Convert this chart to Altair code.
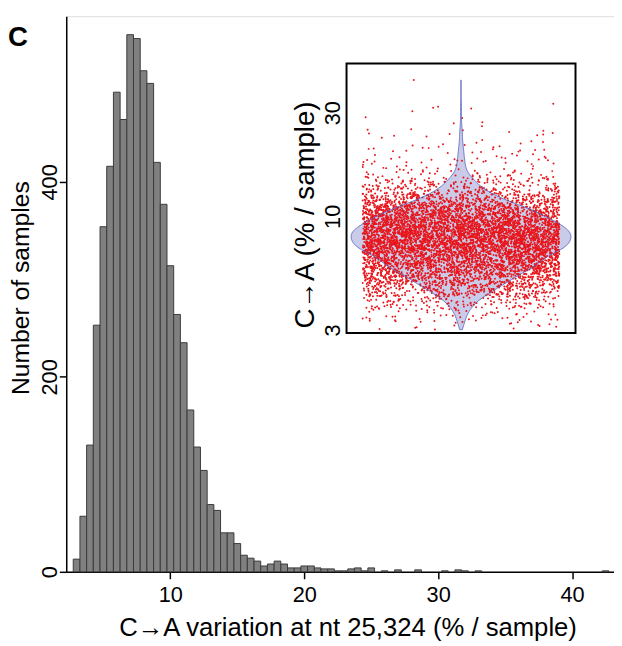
import math
import altair as alt
import pandas as pd

# ---------------- data ----------------
bin_centers = [3.0, 3.5, 4.0, 4.5, 5.0, 5.5, 6.0, 6.5, 7.0, 7.5, 8.0, 8.5, 9.0, 9.5,
               10.0, 10.5, 11.0, 11.5, 12.0, 12.5, 13.0, 13.5, 14.0, 14.5, 15.0, 15.5,
               16.0, 16.5, 17.0, 17.5, 18.0, 18.5, 19.0, 19.5, 20.0, 20.5, 21.0, 21.5,
               22.0, 22.5, 23.0, 23.5, 24.0, 24.5, 25.0, 26.0, 27.0, 28.5, 30.5, 31.5,
               32.0, 33.0, 42.5]
bin_counts = [13, 57, 130, 253, 354, 416, 492, 464, 551, 547, 514, 501, 420, 377,
              314, 264, 235, 166, 128, 104, 69, 63, 40, 40, 29, 17,
              14, 11, 6, 8, 11, 8, 4, 4, 6, 6, 4, 3,
              3, 1, 1, 3, 4, 1, 4, 1, 2, 2, 1, 2,
              1, 1, 1]
bin_width = 0.5
lowest_sample = 3.0

x_ticks = [10, 20, 30, 40]
y_ticks = [0, 200, 400]
inset_ticks = [3, 10, 30]

x_title = "C\u2192A variation at nt 25,324 (% / sample)"
y_title = "Number of samples"
inset_title = "C\u2192A (% / sample)"
panel_letter = "C"

# ---------------- tables ----------------
hist_df = pd.DataFrame({
    "lo": [c - bin_width / 2 for c in bin_centers],
    "hi": [c + bin_width / 2 for c in bin_centers],
    "n": bin_counts,
})

vals = []
for c, n in zip(bin_centers, bin_counts):
    lo = max(c - bin_width / 2, lowest_sample)
    hi = c + bin_width / 2
    for i in range(n):
        vals.append(lo + (i + 0.5) * (hi - lo) / n)
samples = pd.DataFrame({"v": vals})

FONT = "Liberation Sans"

# ---------------- main histogram ----------------
x_main = alt.X(
    "lo:Q",
    scale=alt.Scale(domain=[2.226, 43.13], nice=False, zero=False),
    axis=alt.Axis(
        values=x_ticks, title=x_title, grid=False,
        domainColor="black", domainWidth=1.5, tickColor="black", tickWidth=1.5, tickSize=7,
        labelFont=FONT, labelFontSize=22, labelColor="black", labelPadding=6,
        titleFont=FONT, titleFontSize=26, titleFontWeight="normal", titleColor="black",
        titleX=285, titleY=44, titleBaseline="top", titleAlign="center",
    ),
)
y_main = alt.Y(
    "n:Q",
    scale=alt.Scale(domain=[0, 570], nice=False),
    axis=alt.Axis(
        values=y_ticks, title=y_title, grid=False,
        domainColor="black", domainWidth=1.5, tickColor="black", tickWidth=1.5, tickSize=7,
        labelFont=FONT, labelFontSize=22, labelColor="black", labelPadding=-2,
        labelAngle=270, labelAlign="center", labelBaseline="bottom",
        titleFont=FONT, titleFontSize=25, titleFontWeight="normal", titleColor="black",
        titleAngle=270, titleX=-46, titleY=275, titleAlign="center", titleBaseline="middle",
    ),
)
hist = alt.Chart(hist_df).mark_rect(
    color="#808080", stroke="#3a3a3a", strokeWidth=1
).encode(x=x_main, x2="hi:Q", y=y_main, y2=alt.datum(0))

# ---------------- inset violin + jitter ----------------
lv_min, lv_max = 0.463, 1.704
xin = alt.Scale(domain=[-1, 1], range=[284, 516], nice=False, zero=False)
yin = alt.Scale(domain=[lv_min, lv_max], range=[321, 48], nice=False, zero=False)
yaxis_in = alt.Axis(
    values=[math.log10(t) for t in inset_ticks],
    labelExpr="format(pow(10, datum.value), '.0f')",
    orient="left", offset=-284, domain=False, ticks=False, grid=False,
    labelFont=FONT, labelFontSize=22, labelColor="black", labelPadding=2,
    labelAngle=270, labelAlign="center", labelBaseline="bottom",
    title=inset_title, titleFont=FONT, titleFontSize=28, titleFontWeight="normal",
    titleColor="black", titleAngle=270, titleX=-41, titleY=201,
    titleAlign="center", titleBaseline="middle",
)

base = alt.Chart(samples).transform_calculate(lv="log(datum.v) / LN10")

dens = base.transform_density(
    "lv", as_=["lv", "density"], extent=[math.log10(min(vals)), math.log10(max(vals))], steps=300
).transform_joinaggregate(maxd="max(density)").transform_calculate(
    w="datum.density / datum.maxd * 0.96", nw="-datum.density / datum.maxd * 0.96"
)

violin_fill = dens.mark_area(orient="horizontal", color="#c9cbe8", opacity=1).encode(
    y=alt.Y("lv:Q", scale=yin, axis=yaxis_in),
    x=alt.X("nw:Q", scale=xin, axis=None),
    x2="w:Q",
)
violin_line = dens.mark_area(
    orient="horizontal", fillOpacity=0, stroke="#5565c0", strokeWidth=1, strokeOpacity=0.85
).encode(
    y=alt.Y("lv:Q", scale=yin, axis=yaxis_in),
    x=alt.X("nw:Q", scale=xin, axis=None),
    x2="w:Q",
)
points = base.transform_calculate(jx="(random() - 0.5) * 1.72").mark_circle(
    size=4, color="#e8161c", opacity=1
).encode(
    y=alt.Y("lv:Q", scale=yin, axis=yaxis_in),
    x=alt.X("jx:Q", scale=xin, axis=None),
)
box_df = pd.DataFrame({"x1": [-1], "x2": [1], "y1": [lv_min], "y2": [lv_max]})
box = alt.Chart(box_df).mark_rect(fillOpacity=0, stroke="black", strokeWidth=2).encode(
    x=alt.X("x1:Q", scale=xin, axis=None), x2="x2:Q",
    y=alt.Y("y1:Q", scale=yin, axis=yaxis_in), y2="y2:Q",
)

inset = alt.layer(violin_fill, points, violin_line, box)

letter = alt.Chart(pd.DataFrame({"t": [panel_letter]})).mark_text(
    font=FONT, fontSize=28, fontWeight="bold", align="left", baseline="alphabetic", color="black"
).encode(text="t:N", x=alt.value(-59), y=alt.value(30))

chart = alt.layer(hist, inset, letter).resolve_scale(
    x="independent", y="independent"
).properties(
    width=555, height=563,
    padding={"left": 59, "top": 4, "right": 0, "bottom": 79},
    autosize=alt.AutoSizeParams(type="none"),
).configure_view(stroke=None).configure(background="white")

chart.save("out.html", embed_options={"renderer": "svg", "actions": False})
